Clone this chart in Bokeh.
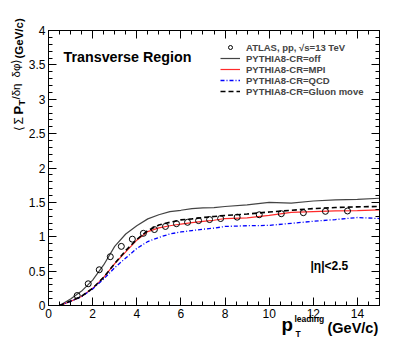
import numpy as np
from bokeh.plotting import figure
from bokeh.models import Range1d, LinearAxis, FixedTicker, Label, Legend, LegendItem
from bokeh.embed import file_html
from bokeh.resources import INLINE

# ---------------- data ----------------
atlas_pt = [1.3, 1.8, 2.3, 2.8, 3.3, 3.8, 4.3, 4.8, 5.3, 5.8, 6.3, 6.8, 7.3, 7.8,
            8.55, 9.55, 10.55, 11.55, 12.55, 13.55]
atlas_val = [0.145, 0.316, 0.52, 0.71, 0.86, 0.965, 1.05, 1.105, 1.15, 1.19, 1.21,
             1.235, 1.25, 1.265, 1.285, 1.32, 1.335, 1.35, 1.37, 1.375]

mc_pt = [0.5, 1.0, 1.5, 2.0, 2.5, 3.0, 3.5, 4.0, 4.5, 5.0, 5.5, 6.0, 6.5, 7.0, 7.5,
         8.0, 9.0, 10.0, 11.0, 12.0, 13.0, 14.0, 15.0]
cr_off = [0.0, 0.095, 0.21, 0.37, 0.59, 0.86, 1.04, 1.16, 1.26, 1.32, 1.365, 1.385,
          1.41, 1.42, 1.425, 1.44, 1.465, 1.50, 1.49, 1.52, 1.535, 1.545, 1.56]
cr_mpi = [0.0, 0.06, 0.13, 0.25, 0.41, 0.61, 0.78, 0.95, 1.075, 1.13, 1.16, 1.185,
          1.205, 1.225, 1.24, 1.265, 1.275, 1.31, 1.355, 1.365, 1.375, 1.38, 1.39]
cr_qcd = [0.0, 0.06, 0.13, 0.24, 0.385, 0.55, 0.69, 0.83, 0.93, 0.99, 1.04, 1.07,
          1.09, 1.11, 1.125, 1.15, 1.16, 1.165, 1.195, 1.225, 1.25, 1.28, 1.265]
cr_gluon = [0.0, 0.065, 0.135, 0.25, 0.41, 0.61, 0.80, 0.96, 1.09, 1.17, 1.21, 1.245,
            1.26, 1.28, 1.295, 1.31, 1.33, 1.36, 1.385, 1.41, 1.425, 1.435, 1.44]

x_major = [0, 2, 4, 6, 8, 10, 12, 14]
y_major = [0, 0.5, 1, 1.5, 2, 2.5, 3, 3.5, 4]
y_labels = ["0", "0.5", "1", "1.5", "2", "2.5", "3", "3.5", "4"]

legend_names = ["ATLAS, pp, \u221as=13 TeV", "PYTHIA8-CR=off", "PYTHIA8-CR=MPI",
                "PYTHIA8-CR=QCD", "PYTHIA8-CR=Gluon move"]

FONT = "Liberation Sans"

# ---------------- geometry (pixels) ----------------
W, H = 405, 340                      # canvas
FL, FR, FT, FB = 48, 379, 30, 305    # data box inside canvas
X0, X1, Y0, Y1 = 0.0, 15.0, 0.0, 4.0
sxu = (FR - FL) / (X1 - X0)
syu = (FB - FT) / (Y1 - Y0)
x_range = Range1d(X0 - FL / sxu, X1 + (W - FR) / sxu)
y_range = Range1d(Y0 - (H - FB) / syu, Y1 + FT / syu)

p = figure(width=W, height=H, x_range=x_range, y_range=y_range,
           output_backend="svg", toolbar_location=None,
           min_border=0, min_border_left=0, min_border_right=0,
           min_border_top=0, min_border_bottom=0,
           x_axis_location=None, y_axis_location=None)
p.grid.visible = False
p.outline_line_color = None
p.background_fill_color = "white"
p.border_fill_color = "white"

x_minor = list(np.arange(0, 15.01, 0.5))
y_minor = list(np.round(np.arange(0, 4.001, 0.1), 2))


def make_axis(kind, show, loc):
    if kind == "x":
        ax = LinearAxis(ticker=FixedTicker(ticks=x_major, minor_ticks=x_minor),
                        bounds=(X0, X1), fixed_location=loc)
    else:
        ax = LinearAxis(ticker=FixedTicker(ticks=y_major, minor_ticks=y_minor),
                        bounds=(Y0, Y1), fixed_location=loc)
        ax.major_label_overrides = {float(v): s for v, s in zip(y_major, y_labels)}
    ax.axis_line_color = "black"
    ax.axis_line_width = 1
    ax.major_tick_in = 8
    ax.major_tick_out = 0
    ax.minor_tick_in = 4
    ax.minor_tick_out = 0
    ax.major_tick_line_color = "black"
    ax.minor_tick_line_color = "black"
    ax.major_label_text_font = FONT
    ax.major_label_text_font_size = "12px" if show else "0px"
    ax.major_label_text_color = "black"
    ax.major_label_standoff = 3
    if not show:
        ax.major_label_text_alpha = 0
    return ax


p.add_layout(make_axis("x", True, Y0), "below")
p.add_layout(make_axis("y", True, X0), "left")
p.add_layout(make_axis("x", False, Y1), "above")
p.add_layout(make_axis("y", False, X1), "right")

# ---------------- curves ----------------
r_off = p.line(mc_pt, cr_off, line_color="#444444", line_width=1.2)
r_mpi = p.line(mc_pt, cr_mpi, line_color="#ff2a2a", line_width=1.2)
r_qcd = p.line(mc_pt, cr_qcd, line_color="#0000ff", line_width=1.3, line_dash="4 2 1 2")
r_glu = p.line(mc_pt, cr_gluon, line_color="black", line_width=1.6, line_dash="5 3")
r_atl = p.scatter(atlas_pt, atlas_val, marker="circle", size=6, fill_color=None,
                  line_color="black", line_width=1)

legend = Legend(items=[LegendItem(label=legend_names[0], renderers=[r_atl]),
                       LegendItem(label=legend_names[1], renderers=[r_off]),
                       LegendItem(label=legend_names[2], renderers=[r_mpi]),
                       LegendItem(label=legend_names[3], renderers=[r_qcd]),
                       LegendItem(label=legend_names[4], renderers=[r_glu])],
                location=(220, H - 96.5))
legend.padding = 0
legend.margin = 0
legend.spacing = 0
legend.glyph_width = 20
legend.glyph_height = 10
legend.label_height = 10
legend.label_standoff = 6
legend.label_text_font = FONT
legend.label_text_font_style = "bold"
legend.label_text_font_size = "9.5px"
legend.label_text_baseline = "middle"
legend.background_fill_alpha = 0
legend.border_line_alpha = 0
p.add_layout(legend)


# ---------------- texts (page pixel positions -> canvas screen units) ----------------
def lab(text, px, py, size, style="bold", angle=0.0):
    p.add_layout(Label(x=px, y=H - py, x_units="screen", y_units="screen",
                       text=text, angle=angle, text_align="left",
                       text_baseline="alphabetic", text_font=FONT,
                       text_font_style=style, text_font_size=size,
                       text_color="black"))


lab("Transverse Region", 63, 56, "14.3px")
lab("|\u03b7|<2.5", 310, 265, "12px")

# x-axis title: p_T^leading (GeV/c)
lab("p", 281, 324, "18.7px")
lab("leading", 294, 318.3, "8.5px")
lab("T", 295, 333, "8.5px")
lab("(GeV/c)", 327, 327.5, "14.5px")

# y-axis title: <Sigma p_T / d eta d phi> (GeV/c), rotated
a = np.pi / 2
bx = 18
lab("\u27e8", bx, 130, "12px", style="normal", angle=a)
lab("\u03a3", bx, 124, "12px", style="normal", angle=a)
lab("P", bx, 114, "13px", angle=a)
lab("T", bx + 3, 105, "9px", angle=a)
lab("/\u03b4\u03b7", bx - 3, 99, "11.5px", style="normal", angle=a)
lab("\u03b4\u03c6\u27e9", bx - 3, 77, "11.5px", style="normal", angle=a)
lab("(GeV/c)", bx, 58, "11.5px", angle=a)

open("out.html", "w").write(file_html(p, INLINE))
